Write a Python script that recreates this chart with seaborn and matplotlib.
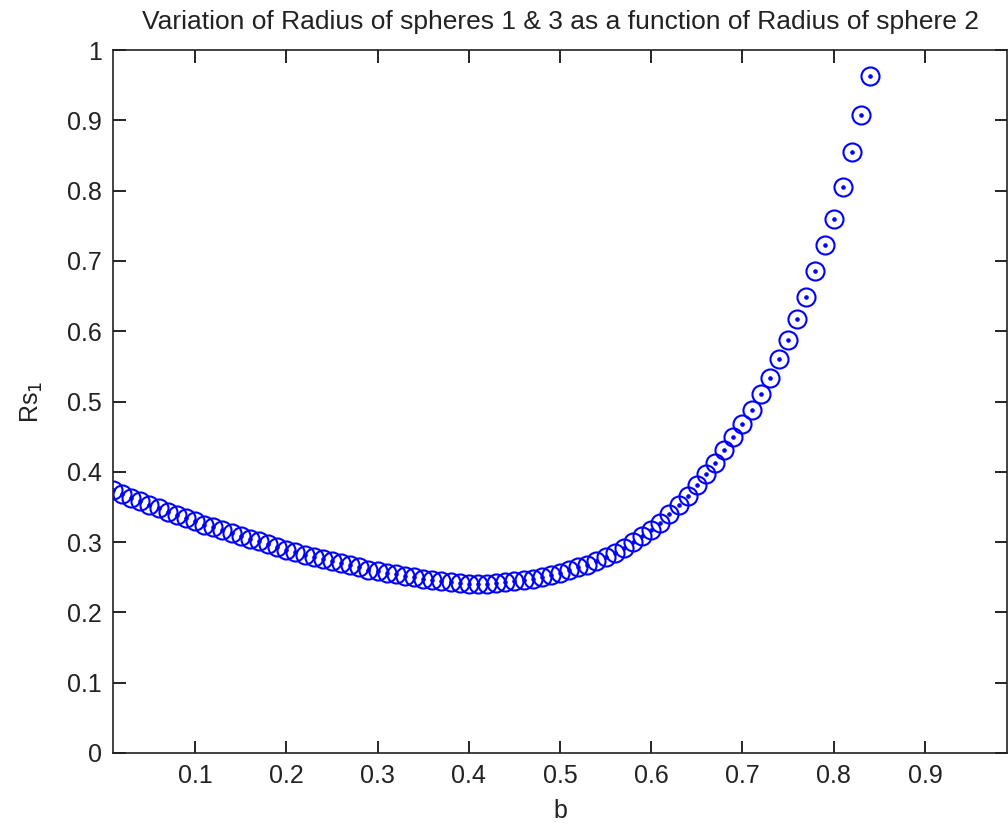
import numpy as np
import pandas as pd
import matplotlib
matplotlib.use("Agg")
import matplotlib.pyplot as plt
import seaborn as sns

# b values (radius of sphere 2) and Rs1
b = [0.01, 0.02, 0.03, 0.04, 0.05, 0.06, 0.07, 0.08, 0.09, 0.10,
     0.11, 0.12, 0.13, 0.14, 0.15, 0.16, 0.17, 0.18, 0.19, 0.20,
     0.21, 0.22, 0.23, 0.24, 0.25, 0.26, 0.27, 0.28, 0.29, 0.30,
     0.31, 0.32, 0.33, 0.34, 0.35, 0.36, 0.37, 0.38, 0.39, 0.40,
     0.41, 0.42, 0.43, 0.44, 0.45, 0.46, 0.47, 0.48, 0.49, 0.50,
     0.51, 0.52, 0.53, 0.54, 0.55, 0.56, 0.57, 0.58, 0.59, 0.60,
     0.61, 0.62, 0.63, 0.64, 0.65, 0.66, 0.67, 0.68, 0.69, 0.70,
     0.71, 0.72, 0.73, 0.74, 0.75, 0.76, 0.77, 0.78, 0.79, 0.80,
     0.81, 0.82, 0.83, 0.84]
rs1 = [0.374, 0.368, 0.363, 0.358, 0.353, 0.348, 0.343, 0.339, 0.334, 0.330,
       0.325, 0.321, 0.317, 0.313, 0.309, 0.305, 0.301, 0.297, 0.293, 0.289,
       0.286, 0.282, 0.279, 0.276, 0.273, 0.270, 0.267, 0.264, 0.261, 0.259,
       0.256, 0.254, 0.252, 0.250, 0.248, 0.246, 0.244, 0.243, 0.242, 0.241,
       0.241, 0.241, 0.242, 0.243, 0.244, 0.246, 0.248, 0.250, 0.253, 0.256,
       0.260, 0.264, 0.268, 0.273, 0.279, 0.285, 0.292, 0.300, 0.308, 0.317,
       0.327, 0.340, 0.353, 0.366, 0.381, 0.397, 0.413, 0.431, 0.449, 0.468,
       0.488, 0.511, 0.534, 0.560, 0.588, 0.618, 0.649, 0.685, 0.723, 0.760,
       0.805, 0.855, 0.907, 0.963]

xticks = [0.1, 0.2, 0.3, 0.4, 0.5, 0.6, 0.7, 0.8, 0.9]
yticks = [0, 0.1, 0.2, 0.3, 0.4, 0.5, 0.6, 0.7, 0.8, 0.9, 1]
ytick_labels = ["0", "0.1", "0.2", "0.3", "0.4", "0.5", "0.6", "0.7", "0.8", "0.9", "1"]

df = pd.DataFrame({"b": b, "Rs1": rs1})

sns.set_style("ticks")
plt.rcParams["font.family"] = ["Liberation Sans", "DejaVu Sans"]
plt.rcParams["xtick.direction"] = "in"
plt.rcParams["ytick.direction"] = "in"

fig = plt.figure(figsize=(10.08, 8.25), dpi=100)
ax = fig.add_axes([113 / 1008, 72 / 825, 894 / 1008, 703 / 825])

# open circles with a dot in the middle (matlab style 'o' + '.')
sns.lineplot(data=df, x="b", y="Rs1", ax=ax, linestyle="none", marker="o",
             markersize=13, markerfacecolor="none", markeredgecolor="blue",
             markeredgewidth=1.5, color="blue")
sns.lineplot(data=df, x="b", y="Rs1", ax=ax, linestyle="none", marker=".",
             markersize=5, markerfacecolor="blue", markeredgecolor="blue",
             color="blue")

ax.set_xlim(0.01, 0.99)
ax.set_ylim(0, 1)
ax.set_xticks(xticks)
ax.set_xticklabels([str(t) for t in xticks])
ax.set_yticks(yticks)
ax.set_yticklabels(ytick_labels)
ax.tick_params(axis="both", labelsize=18, length=9, width=1.2, color="black",
               labelcolor="#222222", top=True, right=True, pad=8)
for s in ax.spines.values():
    s.set_linewidth(1.2)
    s.set_color("#222222")

ax.set_title("Variation of Radius of spheres 1 & 3 as a function of Radius of sphere 2",
             fontsize=19, pad=15, color="#222222")
ax.set_xlabel("b", fontsize=18, labelpad=8, color="#222222")
ax.set_ylabel("Rs$_1$", fontsize=18, labelpad=16, color="#222222")

fig.savefig("out.png", dpi=100)
